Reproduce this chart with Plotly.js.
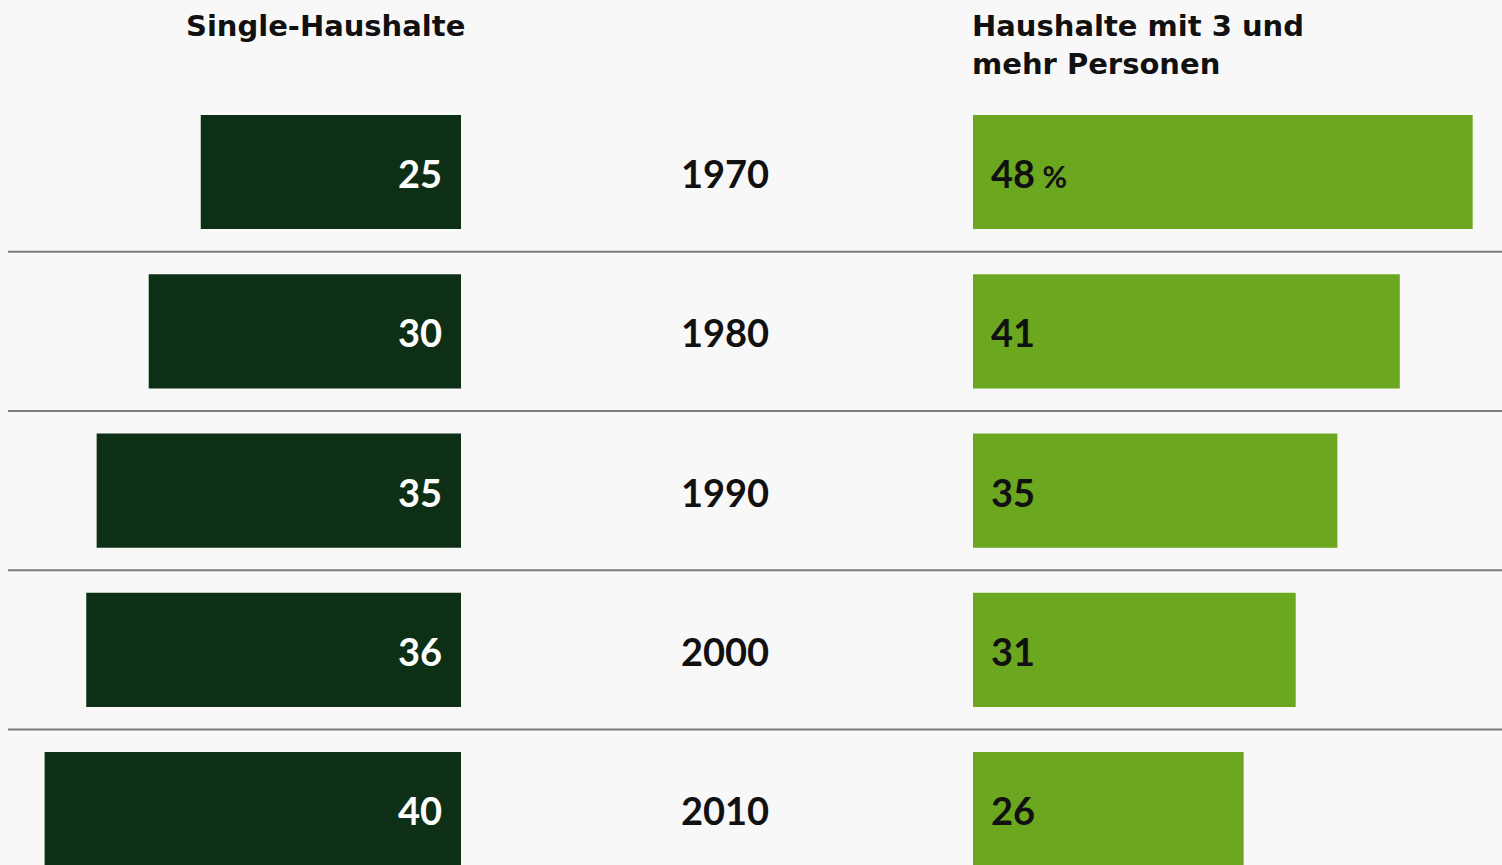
<!DOCTYPE html>
<html><head><meta charset="utf-8">
<script src="https://cdn.plot.ly/plotly-3.0.1.min.js"></script>
<style>html,body{margin:0;padding:0;background:#f8f8f8;}#chart{width:1502px;height:865px;}</style>
</head><body><div id="chart"></div>
<script>
const years = ["1970","1980","1990","2000","2010"];
const singleValues = [25,30,35,36,40];
const largeValues = [48,41,35,31,26];
const leftTitle = "Single-Haushalte";
const rightTitle = "Haushalte mit 3 und<br>mehr Personen";
const valueSuffix = " %";

const W = 1502, H = 865;
const NUMFONT = "Lato, 'Open Sans', sans-serif";
const TITLEFONT = "'DejaVu Sans', 'Open Sans', sans-serif";
const darkGreen = "#0d2f15";
const lightGreen = "#6ba71f";

const traces = [
  {type:"bar", orientation:"h", x:singleValues, y:years, xaxis:"x", yaxis:"y",
   marker:{color:darkGreen}, hoverinfo:"none", showlegend:false},
  {type:"bar", orientation:"h", x:largeValues, y:years, xaxis:"x2", yaxis:"y",
   marker:{color:lightGreen}, hoverinfo:"none", showlegend:false}
];

const annotations = [];
years.forEach((yr,i)=>{
  annotations.push({x:0, y:i, xref:"x", yref:"y", text:String(singleValues[i]),
    showarrow:false, xanchor:"right", yanchor:"middle", xshift:-17, yshift:-1,
    font:{family:NUMFONT, size:38, color:"#ffffff", weight:700}});
  const suffix = i===0 ? "<span style='font-size:30px'>"+valueSuffix+"</span>" : "";
  annotations.push({x:0, y:i, xref:"x2", yref:"y", text:String(largeValues[i])+suffix,
    showarrow:false, xanchor:"left", yanchor:"middle", xshift:16, yshift:-1,
    font:{family:NUMFONT, size:38, color:"#111111", weight:700}});
  annotations.push({x:725/W, y:i, xref:"paper", yref:"y", text:yr,
    showarrow:false, xanchor:"center", yanchor:"middle", yshift:-1,
    font:{family:NUMFONT, size:38, color:"#111111", weight:700}});
});
annotations.push({x:467/W, y:1-7/H, xref:"paper", yref:"paper", text:leftTitle,
  showarrow:false, xanchor:"right", yanchor:"top",
  font:{family:TITLEFONT, size:29, color:"#111111", weight:700}});
annotations.push({x:970/W, y:1-7/H, xref:"paper", yref:"paper", text:rightTitle,
  showarrow:false, xanchor:"left", yanchor:"top", align:"left",
  font:{family:TITLEFONT, size:29, color:"#111111", weight:700}});

const shapes = [];
for (let i=0;i<years.length-1;i++){
  shapes.push({type:"line", xref:"paper", yref:"y", x0:8/W, x1:1, y0:i+0.5, y1:i+0.5,
    line:{color:"#7a7a7a", width:2}});
}

const pxPerUnit = 10.41;
const layout = {
  width:W, height:H, margin:{l:0,r:0,t:0,b:0},
  paper_bgcolor:"#f8f8f8", plot_bgcolor:"rgba(0,0,0,0)",
  bargap:0.283,
  xaxis:{domain:[0,461/W], range:[461/pxPerUnit,0], visible:false, fixedrange:true},
  xaxis2:{domain:[973/W,1], range:[0,(W-973)/pxPerUnit], visible:false, fixedrange:true},
  yaxis:{domain:[0,1], type:"category", categoryarray:years, range:[(H-172)/159.3, -172/159.3], autorange:false, visible:false, fixedrange:true},
  annotations, shapes, showlegend:false
};
Plotly.newPlot("chart", traces, layout, {displayModeBar:false, staticPlot:true});
</script></body></html>
